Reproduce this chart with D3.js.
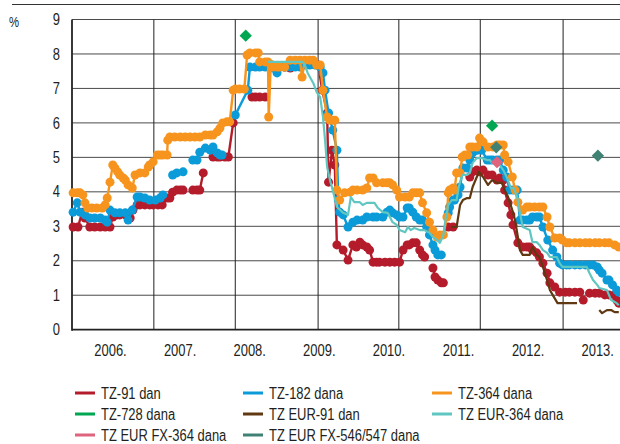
<!DOCTYPE html>
<html>
<head>
<meta charset="utf-8">
<script src="https://cdn.jsdelivr.net/npm/d3@7"></script>
<style>
  html, body { margin: 0; padding: 0; background: #fff; }
  svg { display: block; }
</style>
</head>
<body>
<div id="chart"></div>
<script>
// year labels on the x axis, y ticks
const years = [2006, 2007, 2008, 2009, 2010, 2011, 2012, 2013];
const yTicks = [0, 1, 2, 3, 4, 5, 6, 7, 8, 9];
// vertical gridlines (they do not sit on the year labels in the original)
const gridYears = [2005.954, 2007.13, 2008.30, 2009.49, 2010.65, 2011.82, 2013.01];

// [year, %] ; null = break in the series
const tz91 = [
  [2005.97,2.98],[2006.04,2.98],[2006.10,3.41],[2006.14,3.24],[2006.21,2.98],[2006.28,2.98],[2006.36,2.98],[2006.43,2.98],
  [2006.50,2.98],[2006.54,3.27],[2006.60,3.33],[2006.64,3.33],[2006.72,3.33],[2006.79,3.24],[2006.83,3.47],[2006.89,3.62],
  [2006.93,3.62],[2007.00,3.62],[2007.07,3.62],[2007.12,3.62],[2007.19,3.62],[2007.25,3.62],[2007.32,3.82],[2007.36,3.82],
  [2007.40,3.99],[2007.46,4.05],[2007.51,4.05],[2007.55,4.05],[2007.62,null],
  [2007.69,4.05],[2007.75,4.05],[2007.79,4.05],[2007.84,4.55],[2007.90,null],
  [2007.98,5.01],[2008.04,5.01],[2008.08,5.01],[2008.15,5.01],[2008.20,5.01],[2008.27,6.00],[2008.40,null],
  [2008.54,6.75],[2008.59,6.75],[2008.65,6.75],[2008.73,6.75],[2008.90,null],
  [2009.01,7.62],[2009.09,7.59],[2009.23,7.68],[2009.37,7.70],[2009.49,7.68],[2009.55,6.95],[2009.62,6.29],[2009.64,4.28],
  [2009.69,5.21],[2009.73,4.78],[2009.76,2.46],[2009.85,2.31],[2009.92,2.02],[2009.99,2.46],[2010.04,2.40],[2010.09,2.54],
  [2010.13,2.46],[2010.19,2.40],[2010.23,2.31],[2010.28,1.96],[2010.33,1.96],[2010.37,1.96],[2010.45,1.96],[2010.52,1.96],
  [2010.59,1.96],[2010.66,1.96],[2010.71,2.31],[2010.77,2.46],[2010.80,2.46],[2010.85,2.52],[2010.90,2.52],[2010.95,2.31],
  [2010.99,2.17],[2011.02,2.11],[2011.08,null],
  [2011.14,1.79],[2011.17,1.53],[2011.21,1.44],[2011.26,1.36],[2011.29,1.36],[2011.32,null],
  [2011.36,2.98],[2011.43,2.98],[2011.55,null],
  [2011.67,4.43],[2011.71,4.58],[2011.77,4.63],[2011.81,4.58],[2011.86,4.63],[2011.93,4.49],[2011.99,4.49],[2012.06,4.34],
  [2012.10,4.40],[2012.15,4.34],[2012.17,4.05],[2012.22,3.68],[2012.26,3.33],[2012.29,3.04],[2012.36,2.52],[2012.43,2.40],
  [2012.49,2.40],[2012.53,2.40],[2012.57,2.31],[2012.63,2.23],[2012.67,2.11],[2012.72,1.93],[2012.78,1.64],[2012.82,1.36],
  [2012.89,1.24],[2012.96,1.09],[2013.04,1.09],[2013.10,1.09],[2013.18,1.09],[2013.25,1.09],[2013.30,0.86],[2013.35,null],
  [2013.39,1.06],[2013.47,1.06],[2013.53,1.06],[2013.61,1.01],[2013.67,1.01],[2013.75,1.01],[2013.78,0.86],[2013.81,0.77]
];

const tz182 = [
  [2005.97,3.41],[2006.03,3.68],[2006.07,3.41],[2006.14,3.33],[2006.21,3.24],[2006.28,3.24],[2006.36,3.24],[2006.43,3.18],
  [2006.46,3.12],[2006.50,3.47],[2006.57,3.39],[2006.64,3.39],[2006.72,3.39],[2006.76,3.18],[2006.82,3.47],[2006.89,3.85],
  [2006.93,3.85],[2007.00,3.82],[2007.07,3.76],[2007.15,3.76],[2007.22,3.82],[2007.26,3.91],[2007.33,null],
  [2007.40,4.49],[2007.46,4.55],[2007.55,4.58],[2007.62,null],
  [2007.69,4.92],[2007.75,4.92],[2007.79,5.15],[2007.87,5.27],[2007.94,5.21],[2007.98,5.30],[2008.04,5.13],[2008.08,5.07],
  [2008.11,5.07],[2008.20,null],
  [2008.30,6.23],[2008.48,6.95],[2008.51,7.62],[2008.59,7.62],[2008.65,7.62],[2008.73,7.62],[2008.80,7.68],[2008.84,7.59],
  [2008.90,7.45],[2008.94,7.62],[2009.01,7.62],[2009.09,7.62],[2009.16,7.62],[2009.23,7.62],[2009.30,7.68],[2009.37,7.68],
  [2009.45,7.68],[2009.52,7.62],[2009.56,7.45],[2009.59,6.95],[2009.64,6.29],[2009.70,5.79],[2009.76,5.21],[2009.78,3.76],
  [2009.80,3.41],[2009.85,3.33],[2009.92,2.98],[2009.99,3.12],[2010.05,3.18],[2010.13,3.18],[2010.19,3.27],[2010.28,3.27],
  [2010.33,3.27],[2010.42,3.27],[2010.48,3.41],[2010.52,3.47],[2010.56,3.39],[2010.62,3.33],[2010.66,3.27],[2010.71,3.27],
  [2010.77,3.53],[2010.80,3.53],[2010.85,3.41],[2010.90,3.27],[2010.95,3.18],[2010.99,3.18],[2011.05,2.98],[2011.09,2.75],
  [2011.14,2.46],[2011.17,2.31],[2011.21,2.17],[2011.26,2.17],[2011.31,null],
  [2011.36,3.39],[2011.38,3.56],[2011.43,3.76],[2011.45,3.76],[2011.50,3.91],[2011.53,4.14],[2011.57,4.69],[2011.63,4.69],
  [2011.67,4.92],[2011.71,5.13],[2011.78,5.21],[2011.84,5.21],[2011.92,4.92],[2011.96,4.92],[2012.00,4.92],[2012.06,4.92],
  [2012.10,4.92],[2012.15,4.63],[2012.20,4.43],[2012.24,4.05],[2012.29,4.05],[2012.35,4.05],[2012.39,3.18],[2012.43,3.18],
  [2012.49,3.18],[2012.53,3.18],[2012.57,3.27],[2012.63,3.27],[2012.67,3.27],[2012.72,2.98],[2012.79,2.60],[2012.86,2.31],
  [2012.92,2.11],[2012.96,1.93],[2013.00,1.88],[2013.06,1.88],[2013.10,1.88],[2013.18,1.88],[2013.25,1.88],[2013.33,1.88],
  [2013.39,1.88],[2013.44,1.88],[2013.50,1.82],[2013.53,1.73],[2013.57,1.64],[2013.64,1.44],[2013.67,1.44],[2013.72,1.30],
  [2013.78,1.15],[2013.81,1.09]
];

const tz364 = [
  [2005.97,3.97],[2006.03,3.97],[2006.07,3.97],[2006.11,3.91],[2006.14,3.68],[2006.18,3.53],[2006.24,3.53],[2006.31,3.53],
  [2006.39,3.53],[2006.43,3.62],[2006.46,3.82],[2006.50,4.28],[2006.54,4.78],[2006.57,4.69],[2006.61,4.58],[2006.64,4.49],
  [2006.69,4.40],[2006.72,4.34],[2006.76,4.20],[2006.82,4.11],[2006.86,4.49],[2006.93,4.55],[2007.00,4.55],[2007.05,4.72],
  [2007.07,4.78],[2007.12,4.87],[2007.18,5.07],[2007.22,5.07],[2007.26,5.07],[2007.32,5.07],[2007.33,5.50],[2007.36,5.59],
  [2007.43,5.59],[2007.51,5.59],[2007.58,5.59],[2007.65,5.59],[2007.72,5.59],[2007.79,5.59],[2007.87,5.65],[2007.94,5.65],
  [2007.98,5.65],[2008.04,5.74],[2008.08,5.85],[2008.12,6.00],[2008.18,6.03],[2008.22,6.03],[2008.27,6.95],[2008.30,6.98],
  [2008.36,6.98],[2008.43,6.98],[2008.47,7.97],[2008.51,8.03],[2008.59,8.03],[2008.63,8.03],[2008.65,7.77],[2008.73,7.77],
  [2008.77,7.77],[2008.78,6.17],[2008.81,7.70],[2008.84,7.62],[2008.90,7.62],[2008.94,7.62],[2009.01,7.62],[2009.09,7.82],
  [2009.16,7.82],[2009.23,7.82],[2009.26,7.33],[2009.30,7.82],[2009.37,7.82],[2009.42,7.82],[2009.47,7.68],[2009.52,7.68],
  [2009.56,6.95],[2009.62,6.17],[2009.66,6.08],[2009.70,6.08],[2009.73,6.08],[2009.76,4.05],[2009.80,3.76],[2009.87,3.97],
  [2009.95,3.99],[2009.99,4.05],[2010.05,4.05],[2010.13,4.05],[2010.19,4.11],[2010.23,4.40],[2010.28,4.40],[2010.33,4.26],
  [2010.42,4.26],[2010.48,4.26],[2010.52,4.26],[2010.56,4.20],[2010.62,4.05],[2010.66,3.85],[2010.74,3.85],[2010.80,3.85],
  [2010.85,3.97],[2010.90,3.97],[2010.95,3.97],[2010.99,3.68],[2011.05,3.39],[2011.09,3.12],[2011.14,2.89],[2011.20,2.69],
  [2011.24,2.75],[2011.29,2.75],[2011.34,3.27],[2011.36,3.97],[2011.38,4.05],[2011.43,4.11],[2011.45,4.05],[2011.48,4.55],
  [2011.53,4.55],[2011.56,5.01],[2011.60,5.07],[2011.64,5.07],[2011.67,5.30],[2011.71,5.30],[2011.77,5.30],[2011.81,5.56],
  [2011.86,5.45],[2011.93,5.30],[2012.00,5.30],[2012.06,5.36],[2012.10,5.36],[2012.15,5.36],[2012.17,5.07],[2012.22,4.87],
  [2012.28,4.43],[2012.32,4.05],[2012.36,3.70],[2012.43,3.47],[2012.49,3.56],[2012.53,3.56],[2012.60,3.56],[2012.67,3.56],
  [2012.72,3.56],[2012.78,3.27],[2012.82,2.98],[2012.89,2.66],[2012.96,2.66],[2013.00,2.60],[2013.06,2.52],[2013.10,2.52],
  [2013.18,2.52],[2013.25,2.52],[2013.33,2.52],[2013.39,2.52],[2013.47,2.52],[2013.53,2.52],[2013.61,2.52],[2013.67,2.52],
  [2013.75,2.46],[2013.81,2.40]
];

const tz728 = [[2008.45,8.53],[2011.99,5.92]];

const tzEur91 = [
  [2011.40,2.98],[2011.48,2.98],[2011.53,3.62],[2011.57,3.76],[2011.63,3.82],[2011.67,3.82],[2011.71,4.14],[2011.77,4.43],
  [2011.80,4.58],[2011.86,4.43],[2011.93,4.20],[2011.99,4.34],[2012.06,4.26],[2012.13,4.26],[2012.17,4.05],[2012.22,3.85],
  [2012.28,3.47],[2012.32,3.18],[2012.36,2.69],[2012.39,2.31],[2012.43,2.17],[2012.53,2.17],[2012.57,2.40],[2012.63,2.17],
  [2012.67,2.11],[2012.72,1.82],[2012.78,1.44],[2012.82,1.15],[2012.86,1.01],[2012.93,0.77],[2013.06,0.77],[2013.21,0.77],
  [2013.35,null],
  [2013.53,0.57],[2013.57,0.48],[2013.64,0.57],[2013.70,0.57],[2013.75,0.51],[2013.81,0.51]
];

const tzEur364 = [
  [2008.77,7.77],[2008.87,7.77],[2009.01,7.77],[2009.16,7.77],[2009.27,7.77],[2009.30,7.68],[2009.34,7.45],[2009.42,7.16],
  [2009.47,6.89],[2009.52,6.75],[2009.56,6.17],[2009.59,5.50],[2009.62,4.72],[2009.66,4.34],[2009.70,4.05],[2009.76,3.56],
  [2009.85,3.39],[2009.92,3.33],[2009.96,3.85],[2010.01,3.70],[2010.09,3.70],[2010.13,3.62],[2010.19,3.68],[2010.23,3.68],
  [2010.30,3.68],[2010.35,3.53],[2010.42,3.41],[2010.49,3.39],[2010.56,3.12],[2010.62,3.04],[2010.66,2.89],[2010.74,2.83],
  [2010.78,2.98],[2010.82,2.89],[2010.87,2.95],[2010.95,2.89],[2011.02,2.89],[2011.09,2.81],[2011.14,2.69],[2011.20,2.60],
  [2011.24,2.52],[2011.29,2.75],[2011.33,3.33],[2011.36,3.62],[2011.41,3.76],[2011.48,3.76],[2011.51,4.14],[2011.56,4.49],
  [2011.63,4.49],[2011.67,4.55],[2011.71,4.84],[2011.77,4.98],[2011.84,4.98],[2011.92,4.92],[2011.96,4.92],[2011.99,4.84],
  [2012.06,4.87],[2012.10,4.78],[2012.15,4.63],[2012.20,4.43],[2012.26,4.11],[2012.30,4.11],[2012.35,3.85],[2012.39,3.39],
  [2012.43,2.98],[2012.53,2.89],[2012.57,2.54],[2012.63,2.54],[2012.67,2.46],[2012.72,2.31],[2012.78,2.23],[2012.82,2.11],
  [2012.92,2.11],[2012.96,1.93],[2013.00,1.82],[2013.30,1.82],[2013.35,1.82],[2013.39,1.64],[2013.44,1.44],[2013.50,1.30],
  [2013.53,1.21],[2013.64,1.15],[2013.70,0.86],[2013.78,0.77],[2013.81,0.71]
];

const tzEurFx364 = [[2012.06,4.86]];
const tzEurFx546 = [[2012.05,5.29],[2013.51,5.05]];

const series = [
  { name: "TZ-91 dan",              color: "#b41c2b", data: tz91,       type: "dots" },
  { name: "TZ-182 dana",            color: "#0b9bd8", data: tz182,      type: "dots" },
  { name: "TZ-364 dana",            color: "#f7941e", data: tz364,      type: "dots" },
  { name: "TZ-728 dana",            color: "#00a651", data: tz728,      type: "diamond" },
  { name: "TZ EUR-91 dan",          color: "#603913", data: tzEur91,    type: "line" },
  { name: "TZ EUR-364 dana",        color: "#5fc6c1", data: tzEur364,   type: "line" },
  { name: "TZ EUR FX-364 dana",     color: "#e0637d", data: tzEurFx364, type: "diamond" },
  { name: "TZ EUR FX-546/547 dana", color: "#3f8273", data: tzEurFx546, type: "diamond" }
];

const WIDTH = 620, HEIGHT = 444;
const PLOT = { LEFT: 72, RIGHT: 620, TOP: 19.5, BOTTOM: 329.7 };
const FONT = '"Liberation Sans", Arial, sans-serif';
const NARROW = 0.81;   // original uses a condensed face
const INK = "#231f20";

// squeeze text horizontally to mimic the condensed font
function narrow(sel) {
  sel.each(function () {
    const w = this.getComputedTextLength();
    d3.select(this)
      .attr("textLength", w * NARROW)
      .attr("lengthAdjust", "spacingAndGlyphs");
  });
}

const svg = d3.select("#chart")
  .append("svg")
  .attr("width", WIDTH)
  .attr("height", HEIGHT)
  .style("font-family", FONT);

const x = d3.scaleLinear()
  .domain([2006, 2014])
  .range([75.2, 632]);

const y = d3.scaleLinear()
  .domain([0, 9])
  .range([PLOT.BOTTOM, PLOT.TOP]);

// rule at the very top
svg.append("line")
  .attr("x1", 12).attr("x2", WIDTH)
  .attr("y1", 4.5).attr("y2", 4.5)
  .attr("stroke", "#333").attr("stroke-width", 1);

svg.append("text")
  .attr("x", 9).attr("y", 27)
  .attr("font-size", 14)
  .attr("fill", INK)
  .text("%")
  .call(narrow);

// grid
svg.append("g")
  .selectAll("line")
  .data(yTicks.filter(d => d > 0))
  .enter().append("line")
  .attr("x1", PLOT.LEFT).attr("x2", PLOT.RIGHT)
  .attr("y1", d => y(d)).attr("y2", d => y(d))
  .attr("stroke", "#4a4a4a").attr("stroke-width", 1);

svg.append("g")
  .selectAll("line")
  .data(gridYears.slice(1))
  .enter().append("line")
  .attr("x1", d => x(d)).attr("x2", d => x(d))
  .attr("y1", PLOT.TOP).attr("y2", PLOT.BOTTOM)
  .attr("stroke", "#222").attr("stroke-width", 1);

// axes lines
svg.append("line")
  .attr("x1", x(gridYears[0])).attr("x2", x(gridYears[0]))
  .attr("y1", PLOT.TOP).attr("y2", PLOT.BOTTOM + 1)
  .attr("stroke", "#222").attr("stroke-width", 1.8);
svg.append("line")
  .attr("x1", PLOT.LEFT).attr("x2", PLOT.RIGHT)
  .attr("y1", PLOT.BOTTOM).attr("y2", PLOT.BOTTOM)
  .attr("stroke", "#222").attr("stroke-width", 1.8);

const yAxis = d3.axisLeft(y).tickValues(yTicks).tickSize(0).tickPadding(12);
const gy = svg.append("g")
  .attr("transform", `translate(${PLOT.LEFT}, 0)`)
  .call(yAxis);
gy.select(".domain").remove();
gy.selectAll("text")
  .attr("font-family", FONT)
  .attr("font-size", 16)
  .attr("fill", INK)
  .call(narrow);

const xAxis = d3.axisBottom(x)
  .tickValues(years.map(d => d + 0.5))
  .tickFormat(d => Math.floor(d) + ".")
  .tickSize(0)
  .tickPadding(15);
const gx = svg.append("g")
  .attr("transform", `translate(0, ${PLOT.BOTTOM})`)
  .call(xAxis);
gx.select(".domain").remove();
gx.selectAll("text")
  .attr("font-family", FONT)
  .attr("font-size", 16)
  .attr("fill", INK)
  .call(narrow);

// data
const plot = svg.append("g");

const line = d3.line()
  .defined(d => d[1] !== null)
  .x(d => x(d[0]))
  .y(d => y(d[1]));

const diamond = d3.symbol().type(d3.symbolSquare).size(76);

series.forEach(s => {
  const g = plot.append("g");
  if (s.type === "dots" || s.type === "line") {
    g.append("path")
      .datum(s.data)
      .attr("d", line)
      .attr("fill", "none")
      .attr("stroke", s.color)
      .attr("stroke-width", s.type === "line" ? 2.2 : 2.4)
      .attr("stroke-linejoin", "round");
  }
  if (s.type === "dots") {
    g.selectAll("circle")
      .data(s.data.filter(d => d[1] !== null))
      .enter().append("circle")
      .attr("cx", d => x(d[0]))
      .attr("cy", d => y(d[1]))
      .attr("r", 4.5)
      .attr("fill", s.color);
  }
  if (s.type === "diamond") {
    g.selectAll("path.mk")
      .data(s.data)
      .enter().append("path")
      .attr("class", "mk")
      .attr("d", diamond)
      .attr("transform", d => `translate(${x(d[0])}, ${y(d[1])}) rotate(45)`)
      .attr("fill", s.color);
  }
});

// legend
const LEG_COLS = [75, 243, 432];
const LEG_ROWS = [393, 414, 435];
const legend = svg.append("g")
  .selectAll("g")
  .data(series)
  .enter().append("g")
  .attr("transform", (d, i) => `translate(${LEG_COLS[i % 3]}, ${LEG_ROWS[Math.floor(i / 3)]})`);

legend.append("line")
  .attr("x1", 0).attr("x2", 20)
  .attr("y1", 0).attr("y2", 0)
  .attr("stroke", d => d.color)
  .attr("stroke-width", 3);

legend.append("text")
  .attr("x", 26)
  .attr("y", 0)
  .attr("dy", "0.35em")
  .attr("font-size", 16)
  .attr("fill", INK)
  .text(d => d.name)
  .call(narrow);
</script>
</body>
</html>
